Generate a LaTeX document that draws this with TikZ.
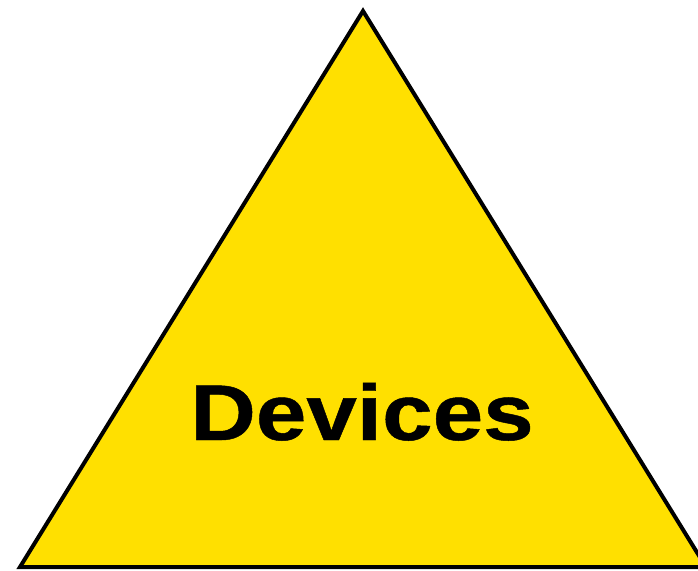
\documentclass[tikz,border=0pt]{standalone}
\usepackage{fontspec}
\setmainfont{Liberation Sans}
\newfontfamily\devfont[FakeStretch=1.15,FakeBold=0.6]{Liberation Sans Bold}
\definecolor{devyellow}{HTML}{FFE000}
\tikzset{tri/.style={fill=devyellow,draw=black,line width=4pt,line join=miter},
  lbl/.style={font=\devfont\fontsize{79}{79}\selectfont,text=black,anchor=base,inner sep=0pt}}
\begin{document}
\begin{tikzpicture}[x=1pt,y=-1pt]
\useasboundingbox (0,0) rectangle (698,570);
\clip (0,0) rectangle (698,570);
\draw[tri] (363,11) -- (706,567) -- (20,567) -- cycle;
\node[lbl] (dev) at (362,440) {Devices};
\end{tikzpicture}
\end{document}
